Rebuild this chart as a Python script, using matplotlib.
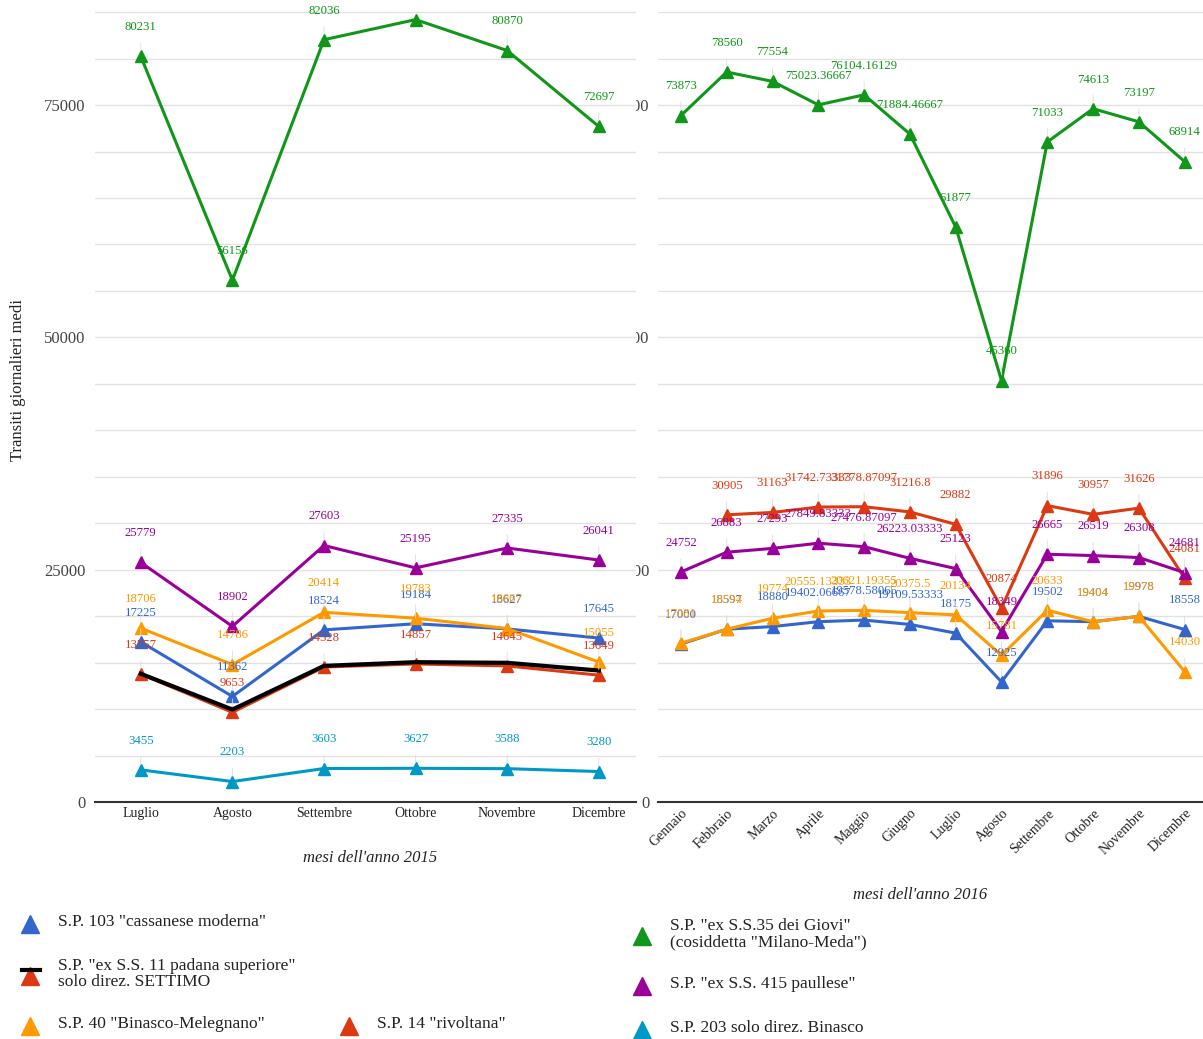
import matplotlib
matplotlib.use("Agg")
import matplotlib.pyplot as plt
from matplotlib.lines import Line2D
import numpy as np

plt.rcParams['font.family'] = ['Liberation Serif', 'DejaVu Serif']

# colours (google charts palette)
BLUE = '#3366cc'
RED = '#dc3912'
ORANGE = '#ff9900'
GREEN = '#109618'
PURPLE = '#990099'
CYAN = '#0099c6'

# 2015 data
months_2015 = ['Luglio', 'Agosto', 'Settembre', 'Ottobre', 'Novembre', 'Dicembre']
green_2015 = [80231, 56156, 82036, 84200, 80870, 72697]
purple_2015 = [25779, 18902, 27603, 25195, 27335, 26041]
orange_2015 = [18706, 14786, 20414, 19783, 18667, 15055]
blue_2015 = [17225, 11362, 18524, 19184, 18627, 17645]
red_2015 = [13757, 9653, 14528, 14857, 14645, 13649]
black_2015 = [13800, 9950, 14650, 15050, 14980, 14150]
cyan_2015 = [3455, 2203, 3603, 3627, 3588, 3280]

# 2016 data
months_2016 = ['Gennaio', 'Febbraio', 'Marzo', 'Aprile', 'Maggio', 'Giugno', 'Luglio',
               'Agosto', 'Settembre', 'Ottobre', 'Novembre', 'Dicembre']
green_2016 = [73873, 78560, 77554, 75023.36667, 76104.16129, 71884.46667, 61877,
              45360, 71033, 74613, 73197, 68914]
red_2016 = [None, 30905, 31163, 31742.73333, 31778.87097, 31216.8, 29882,
            20874, 31896, 30957, 31626, 24081]
purple_2016 = [24752, 26883, 27293, 27849.83333, 27476.87097, 26223.03333, 25123,
               18349, 26665, 26519, 26308, 24681]
orange_2016 = [17081, 18594, 19774, 20555.13333, 20621.19355, 20375.5, 20134,
               15781, 20633, 19404, 19978, 14030]
blue_2016 = [17000, 18597, 18880, 19402.06667, 19578.58065, 19109.53333, 18175,
             12925, 19502, 19404, 19978, 18558]

W, H = 1203, 1039
fig = plt.figure(figsize=(W / 100, H / 100), dpi=100)


def frac(x, y):
    return x / W, 1 - y / H


def lab(v):
    if v == int(v):
        return str(int(v))
    return str(v)


def draw_series(ax, vals, color, labels=True, lw=2.2, skip=()):
    x = [i for i, v in enumerate(vals) if v is not None]
    y = [v for v in vals if v is not None]
    ax.plot(x, y, color=color, lw=lw, marker='^', ms=9, zorder=3)
    if labels:
        for xi, yi in zip(x, y):
            if xi in skip:
                continue
            ax.annotate(lab(yi), (xi, yi), xytext=(0, 21), textcoords='offset points',
                        ha='center', va='center', fontsize=9.2, color=color,
                        arrowprops=dict(arrowstyle='-', color='#dddddd', lw=0.6,
                                        shrinkA=5, shrinkB=4), zorder=4)


ymax = 802 / 232.3 * 25000


def style_axes(ax, xmax):
    ax.set_xlim(-0.5, xmax)
    ax.set_ylim(0, ymax)
    ax.set_yticks(np.arange(0, 85001, 5000), minor=True)
    ax.set_yticks([0, 25000, 50000, 75000])
    ax.grid(axis='y', which='both', color='#e2e2e2', lw=1)
    ax.set_axisbelow(True)
    for s in ['top', 'right', 'left']:
        ax.spines[s].set_visible(False)
    ax.spines['bottom'].set_color('#333333')
    ax.spines['bottom'].set_linewidth(1.5)
    ax.tick_params(which='both', length=0)
    ax.tick_params(axis='y', labelcolor='#444444', labelsize=12)


# right chart (2016) first, so the left one covers its cut labels
ax2 = fig.add_axes([658 / W, 1 - 802 / H, (W - 658) / W, 802 / H])
ax2.set_zorder(1)
style_axes(ax2, -0.5 + 545 / 45.8)
ax2.tick_params(axis='y', pad=6)
ax2.set_xticks(range(len(months_2016)))
ax2.set_xticklabels(months_2016, rotation=45, ha='right', va='top',
                    rotation_mode='anchor', fontsize=10, color='#222222')
draw_series(ax2, green_2016, GREEN)
draw_series(ax2, red_2016, RED)
draw_series(ax2, purple_2016, PURPLE)
draw_series(ax2, blue_2016, BLUE)
draw_series(ax2, orange_2016, ORANGE)

# left chart (2015)
ax1 = fig.add_axes([95 / W, 1 - 802 / H, (636 - 95) / W, 802 / H])
ax1.set_zorder(2)
ax1.set_facecolor('white')
style_axes(ax1, -0.5 + 541 / 91.6)
ax1.tick_params(axis='y', pad=7)
ax1.set_xticks(range(len(months_2015)))
ax1.set_xticklabels(months_2015, fontsize=10, color='#222222')
draw_series(ax1, green_2015, GREEN, skip=(3,))  # Ottobre label is cut off in the source
draw_series(ax1, purple_2015, PURPLE)
draw_series(ax1, blue_2015, BLUE)
draw_series(ax1, orange_2015, ORANGE)
draw_series(ax1, red_2015, RED)
ax1.plot(range(len(black_2015)), black_2015, color='black', lw=3, zorder=3.5)
draw_series(ax1, cyan_2015, CYAN)

fig.text(*frac(18, 380), 'Transiti giornalieri medi', rotation=90, ha='center',
         va='center', fontsize=12, color='#222222')
fig.text(*frac(370, 858), "mesi dell'anno 2015", ha='center', va='center',
         fontsize=12, style='italic', color='#222222')
fig.text(*frac(920, 895), "mesi dell'anno 2016", ha='center', va='center',
         fontsize=12, style='italic', color='#222222')

# legend
legend_items = [
    (30, 924, BLUE, 'S.P. 103 "cassanese moderna"'),
    (30, 976, RED, 'S.P. "ex S.S. 11 padana superiore"\nsolo direz. SETTIMO'),
    (30, 1026, ORANGE, 'S.P. 40 "Binasco-Melegnano"'),
    (349, 1026, RED, 'S.P. 14 "rivoltana"'),
    (642, 936, GREEN, 'S.P. "ex S.S.35 dei Giovi"\n(cosiddetta "Milano-Meda")'),
    (642, 986, PURPLE, 'S.P. "ex S.S. 415 paullese"'),
    (642, 1030, CYAN, 'S.P. 203 solo direz. Binasco'),
]
for x, y, c, t in legend_items:
    fx, fy = frac(x, y)
    fig.add_artist(Line2D([fx], [fy], marker='^', ms=13, color=c, ls='none',
                          transform=fig.transFigure))
    fig.text(*frac(x + 28, y - 2), t, ha='left', va='center', fontsize=12.5,
             color='#222222', linespacing=1.0)
# black line on the padana entry
bx0, by = frac(22, 970)
bx1, _ = frac(40, 970)
fig.add_artist(Line2D([bx0, bx1], [by, by], color='black', lw=3,
                      transform=fig.transFigure))

fig.savefig('out.png', dpi=100, facecolor='white')
